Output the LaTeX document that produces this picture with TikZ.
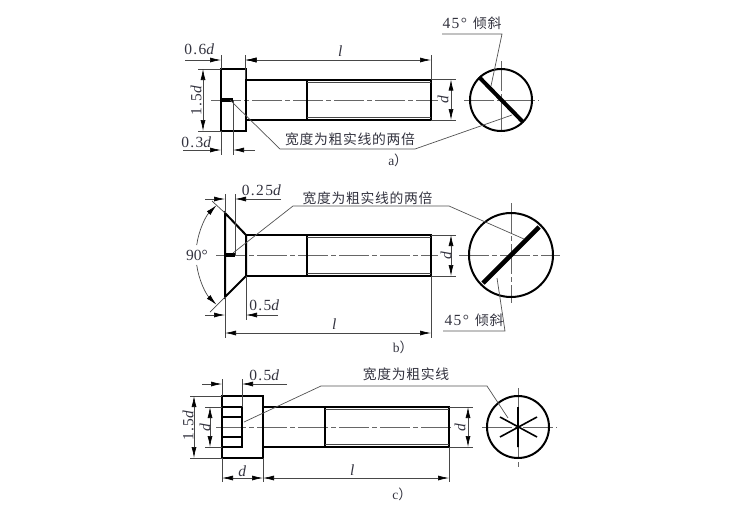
\documentclass[tikz,border=0pt]{standalone}
\usepackage{fontspec}
\usetikzlibrary{arrows.meta}
\setmainfont{Liberation Serif}
\newfontfamily\lbl[LetterSpace=9]{Liberation Serif}
\newfontfamily\cjkf{Noto Sans CJK SC}
\definecolor{ink}{HTML}{33333F}
\newcommand{\cjktxt}[1]{{\cjkf\fontsize{13.8}{14}\selectfont\addfontfeature{LetterSpace=5}#1}}
\newcommand{\dimtxt}[1]{{\lbl\fontsize{15.5}{16}\selectfont #1}}
\tikzset{
  x=1pt,y=-1pt,
  tx/.style={inner sep=0pt,text=ink},
  thinl/.style={draw=black!72,line width=0.7pt},
  dimline/.style={thinl,{Latex[length=11pt,width=5pt,black]}-{Latex[length=11pt,width=5pt,black]}},
  toarr/.style={thinl,-{Latex[length=11pt,width=5pt,black]}},
  thickl/.style={draw=black,line width=2pt,line cap=butt},
  medl/.style={draw=black,line width=1.6pt},
  slotl/.style={draw=black,line width=3.6pt},
  centerl/.style={draw=black!60,line width=0.7pt,dash pattern=on 30pt off 3pt on 5pt off 3pt},
  leader/.style={draw=black!68,line width=0.7pt},
}
\begin{document}
\begin{tikzpicture}
\useasboundingbox (0,0) rectangle (750,512);
%%% a)
\draw[centerl] (211,100) -- (438,100);
\draw[centerl] (464,100) -- (539,100);
\draw[centerl] (501,61) -- (501,135);
\draw[thickl] (221,69) rectangle (245.5,131);
\draw[thickl] (245.5,79.5) -- (431,79.5) -- (431,120) -- (245.5,120);
\draw[medl] (307,79.5) -- (307,120);
\draw[thinl] (307,82) -- (431,82) (307,117.5) -- (431,117.5);
\draw[slotl] (221,100) -- (233,100);
\draw[thickl] (501,100) circle (31);
\draw[slotl,line width=4pt] (479,77) -- (523,122);
% dims
\draw[thinl] (221,55) -- (221,69) (245.5,55) -- (245.5,79) (431,55) -- (431,79);
\draw[thinl] (198,69) -- (221,69) (198,131) -- (221,131);
\draw[thinl] (221,131) -- (221,155) (233,100) -- (233,155);
\draw[thinl] (431,79.5) -- (456,79.5) (431,120) -- (456,120);
\draw[toarr] (185,60) -- (221,60);
\draw[toarr] (256,60) -- (245.5,60);
\draw[dimline] (245.5,60) -- (431,60);
\draw[dimline] (203,69) -- (203,131);
\draw[toarr] (183,150) -- (221,150);
\draw[toarr] (255,150) -- (233,150);
\draw[dimline] (451,79.5) -- (451,120);
\node[tx] (a06) at (200,49) {\dimtxt{0.6\textit{d}}};
\node[tx] (al) at (341,51) {\dimtxt{\textit{l}}};
\node[tx,rotate=90] (a15) at (196,100) {\dimtxt{1.5\textit{d}}};
\node[tx] (a03) at (197,142) {\dimtxt{0.3\textit{d}}};
\node[tx,rotate=90] (ad) at (443,99) {\dimtxt{\textit{d}}};
\node[tx] (aw) at (350,139) {\cjktxt{宽度为粗实线的两倍}};
\node[tx] (a45) at (472,23) {\dimtxt{45°}\hspace{6pt}\cjktxt{倾斜}};
\node[tx] (acap) at (398,160) {\fontsize{13.5}{14}\selectfont a\cjkf）};
\coordinate (la1) at (230,100);
\coordinate (la2) at (512,115);
\draw[leader] (la1) -- (280,149) -- (415,149) -- (la2);
\coordinate (la3) at (491,86);
\draw[leader] (442,34) -- (502,34) -- (la3);
%%% b)
\draw[centerl] (216,255) -- (438,255);
\draw[centerl] (459,255) -- (560,255);
\draw[centerl] (511,203) -- (511,303);
\draw[thickl] (246,235) -- (225,213) -- (225,297) -- (246,276) -- cycle;
\draw[thickl] (246,235) -- (431,235) -- (431,276) -- (246,276);
\draw[medl] (307,235) -- (307,276);
\draw[thinl] (307,237.5) -- (431,237.5) (307,273) -- (431,273);
\draw[slotl] (225,255) -- (235,255);
\draw[thickl] (511,255) circle (42);
\draw[slotl,line width=4.6pt] (483,283) -- (539,227);
% dims
\draw[thinl] (225,194) -- (225,213) (225,297) -- (225,338) (235,194) -- (235,255);
\draw[thinl] (246,276) -- (246,320) (431,276) -- (431,338);
\draw[thinl] (431,235) -- (456,235) (431,276) -- (456,276);
\draw[thinl] (225,213) -- (212,201) (225,297) -- (210,312);
\draw[toarr] (205,199) -- (225,199);
\draw[toarr] (281,199) -- (235,199);
\draw[toarr] (205,315) -- (225,315);
\draw[toarr] (278,315) -- (246,315);
\draw[dimline] (225,333) -- (431,333);
\draw[dimline] (451,235) -- (451,276);
\draw[toarr] (196.7,245) arc[start angle=188,end angle=225,radius=70];
\draw[toarr] (196.7,265) arc[start angle=172,end angle=135,radius=70];
\node[tx] (b25) at (262,190) {\dimtxt{0.25\textit{d}}};
\node[tx] (b05) at (265,305) {\dimtxt{0.5\textit{d}}};
\node[tx] (bl) at (335,324) {\dimtxt{\textit{l}}};
\node[tx] (b90) at (197,255) {\fontsize{15.5}{16}\selectfont 90°};
\node[tx,rotate=90] (bd) at (446,255) {\dimtxt{\textit{d}}};
\node[tx] (bw) at (367.5,198) {\cjktxt{宽度为粗实线的两倍}};
\node[tx] (b45) at (474,320) {\dimtxt{45°}\hspace{6pt}\cjktxt{倾斜}};
\node[tx] (bcap) at (403,347) {\fontsize{13.5}{14}\selectfont b\cjkf）};
\coordinate (lb1) at (233,253);
\coordinate (lb2) at (524,239);
\draw[leader] (lb1) -- (293,206) -- (449,206) -- (lb2);
\coordinate (lb3) at (497,278);
\draw[leader] (443,331) -- (505,331) -- (lb3);
%%% c)
\draw[centerl] (216,427) -- (451,427);
\draw[centerl] (482,427) -- (557,427);
\draw[centerl] (518,388) -- (518,468);
\draw[thickl] (222,396) rectangle (263,458);
\draw[thickl] (263,407) -- (449,407) -- (449,447) -- (263,447);
\draw[medl] (325,407) -- (325,447);
\draw[thinl] (325,409.5) -- (449,409.5) (325,444) -- (449,444);
\draw[medl] (222,407) -- (242,407) -- (242,447) -- (222,447);
\draw[medl] (222,417) -- (242,417) (222,437) -- (242,437);
\draw[thickl] (518,427) circle (31);
\draw[medl] (518,407) -- (518,447) (500,437) -- (537,417) (500,417) -- (537,437);
% dims
\draw[thinl] (222,379) -- (222,396) (222,458) -- (222,482) (242,379) -- (242,407);
\draw[thinl] (263,458) -- (263,482) (449,447) -- (449,482);
\draw[thinl] (190,396) -- (222,396) (190,458) -- (222,458) (205,407) -- (222,407) (205,447) -- (222,447);
\draw[thinl] (449,407) -- (473,407) (449,447) -- (473,447);
\draw[toarr] (202,384) -- (222,384);
\draw[toarr] (287,384) -- (242,384);
\draw[dimline] (194,396) -- (194,458);
\draw[dimline] (210,407) -- (210,447);
\draw[dimline] (222,478) -- (263,478);
\draw[dimline] (263,478) -- (449,478);
\draw[dimline] (468,407) -- (468,447);
\node[tx] (c05) at (265,375) {\dimtxt{0.5\textit{d}}};
\node[tx,rotate=90] (c15) at (188,425) {\dimtxt{1.5\textit{d}}};
\node[tx,rotate=90] (cd1) at (205,427) {\dimtxt{\textit{d}}};
\node[tx] (cd2) at (243,471) {\dimtxt{\textit{d}}};
\node[tx] (cl) at (353,470) {\dimtxt{\textit{l}}};
\node[tx,rotate=90] (cd3) at (460,427) {\dimtxt{\textit{d}}};
\node[tx] (cw) at (406,374) {\cjktxt{宽度为粗实线}};
\node[tx] (ccap) at (402,494) {\fontsize{13.5}{14}\selectfont c\cjkf）};
\coordinate (lc1) at (244,422);
\coordinate (lc2) at (508,418);
\draw[leader] (lc1) -- (321,386) -- (487,386) -- (lc2);
\end{tikzpicture}
\end{document}
